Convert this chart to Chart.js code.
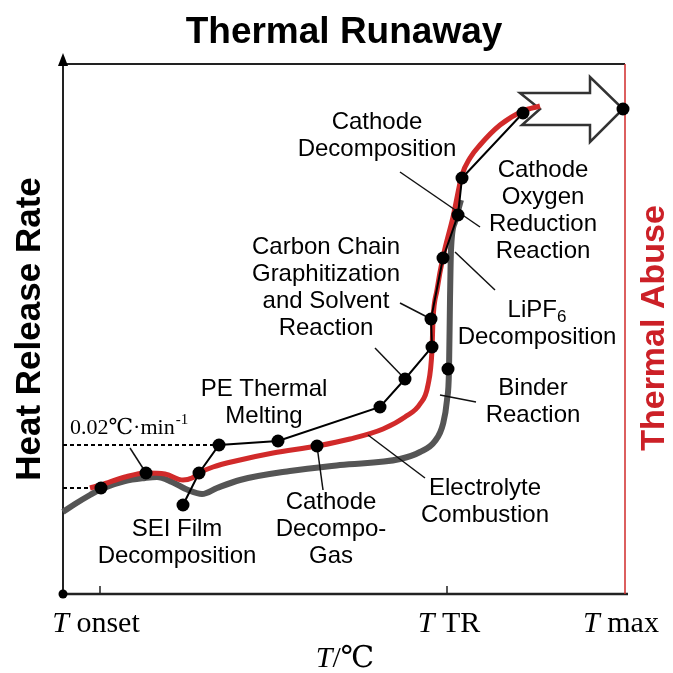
<!DOCTYPE html>
<html>
<head>
<meta charset="utf-8">
<script src="https://cdn.jsdelivr.net/npm/chart.js@4.4.0/dist/chart.umd.min.js"></script>
<style>
  body { margin: 0; background: #fff; }
  #chart { display: block; }
</style>
</head>
<body>
<canvas id="chart" width="673" height="673"></canvas>
<script>
// schematic units: x = temperature (0 .. 562), y = heat release rate (0 .. 530)
const xTickValues = [37, 384, 562];
const xTickLabels = ['onset', 'TR', 'max'];
const xTickShift = [-4, 2, -4];

// grey: baseline battery curve
const grayCurve = [[0,82],[12,90],[27,99],[38,105],[62,113],[82,116],[94,117],[109,112],[125,104],[139,100],
  [154,106],[177,114],[227,123],[277,129],[337,135],[357,142],[372,153],[380,170],[384,194],[386,224],
  [387,294],[388,344],[392,372],[398,394]];

// red: thermal runaway curve
const redCurve = [[27,106],[38,109],[62,117],[83,121],[102,120],[120,114],[129,116],[136,121],[150,127],
  [177,134],[210,141],[254,148],[287,155],[320,165],[342,177],[357,190],[365,209],[369,244],[370,274],
  [374,304],[380,337],[390,377],[399,419],[407,436],[417,449],[437,469],[460,483],[477,488]];

// black: reaction chain
const reactionChain = [[120,89],[136,121],[156,149],[215,153],[317,187],[342,215],[369,247],[368,275],
  [380,336],[395,379],[399,416],[460,481]];

const singleDots = [[38,106],[83,121],[254,148],[385,225],[560,485]];

const dashedLevels = [[[0,106],[38,106]], [[0,149],[156,149]]];

const leaderLines = [
  [[67,146],[83,121]],
  [[254,148],[260,104]],
  [[337,422],[417,367]],
  [[392,342],[432,304]],
  [[337,291],[368,275]],
  [[312,246],[342,215]],
  [[305,159],[362,116]],
  [[377,199],[413,192]]
];

const arrowShape = [[457,501],[527,501],[527,517],[560,485],[527,452],[527,469],[459,469],[477,485]];

const labels = [
  { at: [314,472], lines: ['Cathode', 'Decomposition'] },
  { at: [480,424], lines: ['Cathode', 'Oxygen', 'Reduction', 'Reaction'] },
  { at: [263,347], lines: ['Carbon Chain', 'Graphitization', 'and Solvent', 'Reaction'] },
  { at: [474,284], lines: ['LiPF|6', 'Decomposition'] },
  { at: [470,206], lines: ['Binder', 'Reaction'] },
  { at: [201,205], lines: ['PE Thermal', 'Melting'] },
  { at: [422,106], lines: ['Electrolyte', 'Combustion'] },
  { at: [114,65], lines: ['SEI Film', 'Decomposition'] },
  { at: [268,92], lines: ['Cathode', 'Decompo-', 'Gas'] }
];

const RED = '#d12a2a';
const SANS = '"Liberation Sans", Arial, sans-serif';
const SERIF = '"Liberation Serif", "DejaVu Serif", "Times New Roman", serif';
const pts = arr => arr.map(p => ({ x: p[0], y: p[1] }));

const datasets = [];
datasets.push({ data: pts(singleDots), showLine: false, pointRadius: 6.5, pointBackgroundColor: '#000',
  pointBorderWidth: 0, order: 0, clip: false });
datasets.push({ data: pts(reactionChain), borderColor: '#000', borderWidth: 2, pointRadius: 6.5,
  pointBackgroundColor: '#000', pointBorderWidth: 0, tension: 0, order: 1, clip: false });
leaderLines.forEach(l => datasets.push({ data: pts(l), borderColor: '#111', borderWidth: 1.5,
  pointRadius: 0, order: 2, clip: false }));
datasets.push({ data: pts(redCurve), borderColor: RED, borderWidth: 5, pointRadius: 0,
  cubicInterpolationMode: 'monotone', order: 3, clip: false });
datasets.push({ data: pts(grayCurve), borderColor: '#555', borderWidth: 6, pointRadius: 0,
  cubicInterpolationMode: 'monotone', order: 4, clip: false });
dashedLevels.forEach(l => datasets.push({ data: pts(l), borderColor: '#000', borderWidth: 2,
  borderDash: [4, 3], pointRadius: 0, order: 5, clip: false }));

function mixed(ctx, parts, cx, y) {
  // parts: [text, font, dy]
  let w = 0;
  parts.forEach(p => { ctx.font = p[1]; w += ctx.measureText(p[0]).width; });
  let x = cx - w / 2;
  ctx.textAlign = 'left';
  parts.forEach(p => { ctx.font = p[1]; ctx.fillText(p[0], x, y + (p[2] || 0)); x += ctx.measureText(p[0]).width; });
}

const drawing = {
  id: 'drawing',
  beforeDatasetsDraw(chart) {
    const ctx = chart.ctx, xs = chart.scales.x, ys = chart.scales.y;
    const X = v => xs.getPixelForValue(v), Y = v => ys.getPixelForValue(v);
    ctx.save();
    // frame
    ctx.strokeStyle = '#222';
    ctx.lineWidth = 2;
    ctx.beginPath();
    ctx.moveTo(X(0), Y(0)); ctx.lineTo(X(0), Y(530) - 4);
    ctx.moveTo(X(0), Y(530)); ctx.lineTo(X(562), Y(530));
    ctx.stroke();
    ctx.fillStyle = '#000';
    ctx.beginPath();
    ctx.moveTo(X(0), Y(530) - 11); ctx.lineTo(X(0) + 5, Y(530) + 2); ctx.lineTo(X(0) - 5, Y(530) + 2);
    ctx.closePath(); ctx.fill();
    ctx.lineWidth = 2.5;
    ctx.beginPath();
    ctx.moveTo(X(0), Y(0)); ctx.lineTo(X(562) + 3, Y(0));
    ctx.stroke();
    ctx.lineWidth = 1.5;
    ctx.beginPath();
    xTickValues.slice(0, 2).forEach(v => { ctx.moveTo(X(v), Y(0)); ctx.lineTo(X(v), Y(0) - 8); });
    ctx.stroke();
    ctx.strokeStyle = RED;
    ctx.lineWidth = 1.5;
    ctx.beginPath();
    ctx.moveTo(X(562), Y(530)); ctx.lineTo(X(562), Y(0));
    ctx.stroke();
    // hollow arrow
    ctx.beginPath();
    arrowShape.forEach((p, i) => i ? ctx.lineTo(X(p[0]), Y(p[1])) : ctx.moveTo(X(p[0]), Y(p[1])));
    ctx.closePath();
    ctx.fillStyle = '#fff'; ctx.fill();
    ctx.strokeStyle = '#333'; ctx.lineWidth = 2.5; ctx.lineJoin = 'miter'; ctx.stroke();
    ctx.restore();
  },
  afterDraw(chart) {
    const ctx = chart.ctx, xs = chart.scales.x, ys = chart.scales.y;
    const X = v => xs.getPixelForValue(v), Y = v => ys.getPixelForValue(v);
    ctx.save();
    ctx.fillStyle = '#000';
    ctx.beginPath(); ctx.arc(X(0), Y(0), 4.5, 0, Math.PI * 2); ctx.fill();

    ctx.textBaseline = 'middle';
    ctx.textAlign = 'center';
    ctx.font = 'bold 37px ' + SANS;
    ctx.fillText('Thermal Runaway', 344, 33);

    labels.forEach(lb => {
      lb.lines.forEach((t, i) => {
        const cx = X(lb.at[0]), cy = Y(lb.at[1]) + i * 27;
        if (t.includes('|')) {
          const s = t.split('|');
          mixed(ctx, [[s[0], '24px ' + SANS, 0], [s[1], '17px ' + SANS, 7]], cx, cy);
        } else {
          ctx.textAlign = 'center';
          ctx.font = '24px ' + SANS;
          ctx.fillText(t, cx, cy);
        }
      });
    });

    // rate note
    ctx.textAlign = 'left';
    ctx.font = '22px ' + SERIF;
    ctx.textBaseline = 'alphabetic';
    ctx.fillText('0.02\u2103\u00b7min', 70, 434);
    const w = ctx.measureText('0.02\u2103\u00b7min').width;
    ctx.font = '15px ' + SERIF;
    ctx.fillText('-1', 70 + w + 1, 424);

    // x tick labels
    xTickValues.forEach((v, i) => {
      mixed(ctx, [['T', 'italic 30px ' + SERIF, 0], [' ' + xTickLabels[i], '30px ' + SERIF, 0]], X(v) + xTickShift[i], 632);
    });
    mixed(ctx, [['T', 'italic 30px ' + SERIF, 0], ['/\u2103', '30px ' + SERIF, 0]], 345, 667);

    // axis titles
    ctx.textBaseline = 'middle';
    ctx.textAlign = 'center';
    ctx.save();
    ctx.translate(30, 329); ctx.rotate(-Math.PI / 2);
    ctx.font = 'bold 35px ' + SANS;
    ctx.fillText('Heat Release Rate', 0, 0);
    ctx.restore();
    ctx.save();
    ctx.translate(655, 328); ctx.rotate(-Math.PI / 2);
    ctx.font = 'bold 34px ' + SANS;
    ctx.fillStyle = '#cc2027';
    ctx.fillText('Thermal Abuse', 0, 0);
    ctx.restore();
    ctx.restore();
  }
};

new Chart(document.getElementById('chart'), {
  type: 'line',
  data: { datasets: datasets },
  options: {
    responsive: false,
    animation: false,
    events: [],
    layout: { padding: { left: 63, right: 48, top: 64, bottom: 79 } },
    scales: {
      x: { type: 'linear', min: 0, max: 562, display: false },
      y: { type: 'linear', min: 0, max: 530, display: false }
    },
    plugins: { legend: { display: false }, tooltip: { enabled: false } }
  },
  plugins: [drawing]
});
</script>
</body>
</html>
